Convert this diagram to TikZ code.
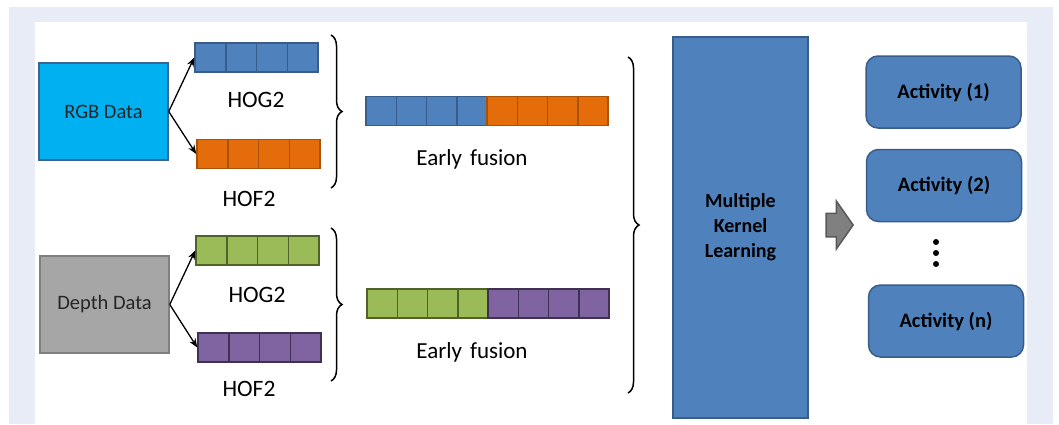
\documentclass[tikz,border=0pt]{standalone}
\usepackage{fontspec}
\setmainfont{Carlito}
\usetikzlibrary{
  arrows.meta,
  decorations.pathreplacing,
  shapes.arrows
}
\definecolor{frame}{HTML}{E8ECF6}
\definecolor{rgbfill}{HTML}{00B0F0}
\definecolor{rgbline}{HTML}{3A6592}
\definecolor{depthfill}{HTML}{A6A6A6}
\definecolor{depthline}{HTML}{7F7F7F}
\definecolor{blue}{HTML}{4F81BD}
\definecolor{blueline}{HTML}{385D8A}
\definecolor{orange}{HTML}{E46C0A}
\definecolor{orangeline}{HTML}{A65309}
\definecolor{green}{HTML}{9BBB59}
\definecolor{greenline}{HTML}{4F6228}
\definecolor{purple}{HTML}{8064A2}
\definecolor{purpleline}{HTML}{403152}
\definecolor{shade}{HTML}{808080}
\definecolor{shadeline}{HTML}{595959}
\newcommand{\widespace}{\spaceskip=0.35em\relax}
\tikzset{
  source/.style={
    draw,
    line width=1.5pt,
    minimum width=129pt,
    minimum height=97pt,
    font=\fontsize{20.5}{24}\selectfont,
    text=black!85
  },
  cell/.style={
    draw,
    line width=1.5pt,
    inner sep=0pt,
    minimum width=30.75pt,
    minimum height=29pt
  },
  fcell/.style={cell, minimum width=30.25pt},
  label/.style={font=\fontsize{23.5}{28}\selectfont, text=black},
  fusion/.style={font=\fontsize{23}{28}\selectfont\widespace, text=black},
  mkl/.style={
    draw=blueline,
    fill=blue,
    line width=1.5pt,
    minimum width=135pt,
    minimum height=381pt,
    align=center,
    font=\fontsize{20}{25}\selectfont\bfseries
  },
  activity/.style={
    draw=blueline,
    fill=blue,
    line width=1.5pt,
    rounded corners=12pt,
    minimum width=155pt,
    minimum height=72pt,
    font=\fontsize{20.5}{24}\selectfont\bfseries
  },
  arrow/.style={-{Stealth[length=9pt, width=7pt]}, line width=1.3pt},
  curly/.style={
    decorate,
    decoration={brace, amplitude=11pt},
    line width=1.5pt
  },
  dot/.style={circle, fill=black, inner sep=0pt, minimum size=6pt}
}

\begin{document}
\begin{tikzpicture}[x=1pt, y=-1pt]
  \useasboundingbox (0,0) rectangle (1059,424);
  \fill[white] (0,0) rectangle (1059,424);
  \fill[frame] (9,7) rectangle (1053,424);
  \fill[white] (35,22) rectangle (1027,424);

  % sources
  \node[source, fill=rgbfill, draw=rgbline] (rgb) at (103.5,111.5) {RGB Data};
  \node[source, fill=depthfill, draw=depthline] (depth) at (104.5,304.5) {Depth Data};

  % descriptor bars
  \foreach \i in {1,...,4} {
    \node[cell, fill=blue, draw=blueline] (rgbhog\i) at ({195+30.75*(\i-0.5)},57.5) {};
    \node[cell, fill=orange, draw=orangeline] (rgbhof\i) at ({197+30.75*(\i-0.5)},154) {};
    \node[cell, fill=green, draw=greenline] (dephog\i) at ({196+30.75*(\i-0.5)},250.5) {};
    \node[cell, fill=purple, draw=purpleline] (dephof\i) at ({198+30.75*(\i-0.5)},347.5) {};
  }
  \node[label] (rgbhoglab) at (256,100) {HOG2};
  \node[label] (rgbhoflab) at (249,199) {HOF2};
  \node[label] (dephoglab) at (257,295) {HOG2};
  \node[label] (dephoflab) at (249,389) {HOF2};

  \draw[arrow] (rgb.east) -- (rgbhog1.west);
  \draw[arrow] (rgb.east) -- (rgbhof1.west);
  \draw[arrow] (depth.east) -- (dephog1.west);
  \draw[arrow] (depth.east) -- (dephof1.west);

  % braces
  \coordinate (rgbtop) at (331,35);
  \coordinate (rgbbot) at (331,188);
  \coordinate (deptop) at (331,228);
  \coordinate (depbot) at (331,381);
  \coordinate (alltop) at (628,57);
  \coordinate (allbot) at (628,393);
  \draw[curly] (rgbtop) -- (rgbbot);
  \draw[curly] (deptop) -- (depbot);
  \draw[curly] (alltop) -- (allbot);

  % early fusion bars
  \foreach \i in {1,...,4} {
    \node[fcell, fill=blue, draw=blueline] (rgbfa\i) at ({366+30.25*(\i-0.5)},111) {};
    \node[fcell, fill=green, draw=greenline] (depfa\i) at ({367+30.25*(\i-0.5)},303.5) {};
  }
  \foreach \i in {5,...,8} {
    \node[fcell, fill=orange, draw=orangeline] (rgbfb\i) at ({366+30.25*(\i-0.5)},111) {};
    \node[fcell, fill=purple, draw=purpleline] (depfb\i) at ({367+30.25*(\i-0.5)},303.5) {};
  }
  \node[fusion] (rgbfuse) at (472,159) {Early fusion};
  \node[fusion] (depfuse) at (472,352) {Early fusion};

  % classifier and outputs
  \node[mkl] (kernel) at (740.5,227.5) {Multiple\\Kernel\\Learning};
  \node[single arrow, draw=shadeline, fill=shade, line width=1.5pt,
    inner xsep=0pt, inner ysep=11pt, text height=0pt, text depth=0pt,
    minimum height=27pt, single arrow head extend=12pt,
    single arrow tip angle=110] (flow) at (835.5,225) {};

  \node[activity] (act1) at (943.5,92) {Activity (1)};
  \node[activity] (act2) at (944,185.5) {Activity (2)};
  \node[activity] (actn) at (946,321) {Activity (n)};
  \node[dot] (dota) at (936,242) {};
  \node[dot] (dotb) at (936,253) {};
  \node[dot] (dotc) at (936,264) {};
\end{tikzpicture}
\end{document}
